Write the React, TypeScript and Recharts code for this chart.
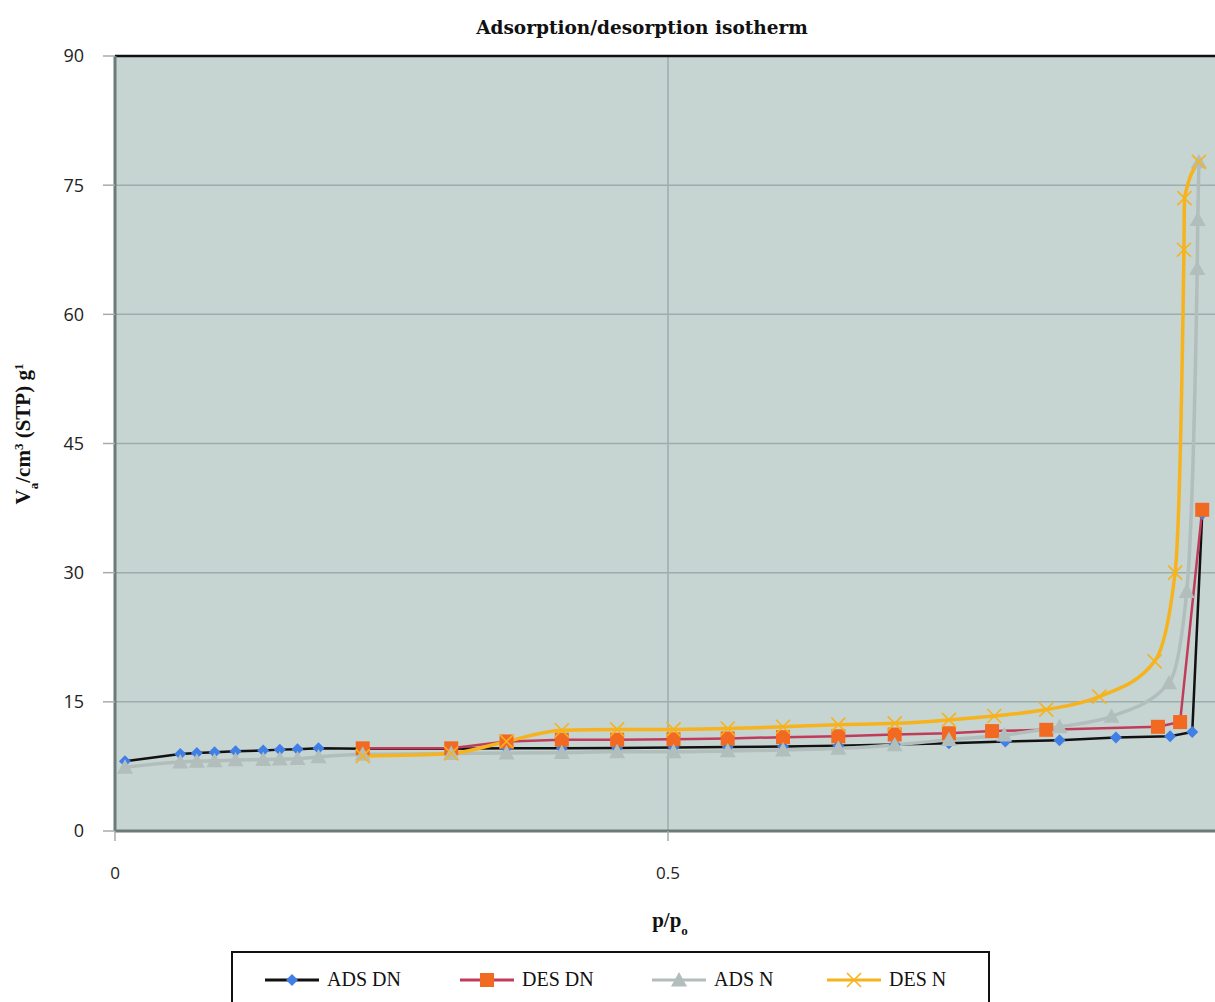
import { LineChart, Line, XAxis, YAxis, CartesianGrid, ReferenceLine } from 'recharts';

// relative pressure p/p0 and adsorbed volume (cm3 STP / g)
const adsDnP = [0.009, 0.059, 0.074, 0.09, 0.109, 0.134, 0.149, 0.165, 0.184, 0.224, 0.304, 0.354, 0.404, 0.454, 0.505, 0.554, 0.604, 0.654, 0.705, 0.754, 0.805, 0.854, 0.905, 0.954, 0.974, 0.983];
const adsDnV = [8.1, 8.95, 9.05, 9.15, 9.25, 9.35, 9.45, 9.5, 9.6, 9.55, 9.55, 9.6, 9.6, 9.65, 9.7, 9.75, 9.8, 9.9, 10.05, 10.2, 10.4, 10.55, 10.85, 11.0, 11.5, 36.8];

const desDnP = [0.224, 0.304, 0.354, 0.404, 0.454, 0.505, 0.554, 0.604, 0.654, 0.705, 0.754, 0.793, 0.842, 0.943, 0.963, 0.983];
const desDnV = [9.6, 9.6, 10.4, 10.6, 10.6, 10.65, 10.75, 10.9, 11.0, 11.2, 11.35, 11.6, 11.75, 12.1, 12.65, 37.3];

const adsNP = [0.009, 0.059, 0.074, 0.09, 0.109, 0.134, 0.149, 0.165, 0.184, 0.224, 0.304, 0.354, 0.404, 0.454, 0.505, 0.554, 0.604, 0.654, 0.705, 0.754, 0.804, 0.854, 0.901, 0.953, 0.969, 0.9785, 0.979, 0.98];
const adsNV = [7.4, 8.0, 8.1, 8.15, 8.25, 8.3, 8.35, 8.4, 8.6, 8.9, 9.0, 9.05, 9.1, 9.2, 9.2, 9.3, 9.4, 9.6, 10.0, 10.6, 11.15, 12.1, 13.3, 17.2, 27.8, 65.3, 71.0, 77.7];

const desNP = [0.224, 0.304, 0.354, 0.404, 0.454, 0.505, 0.554, 0.604, 0.654, 0.705, 0.754, 0.795, 0.842, 0.89, 0.94, 0.9585, 0.9665, 0.967, 0.98];
const desNV = [8.7, 9.0, 10.4, 11.7, 11.8, 11.8, 11.9, 12.1, 12.35, 12.5, 12.9, 13.35, 14.1, 15.6, 19.7, 30.0, 67.5, 73.5, 77.7];

const xTicks = [0, 0.5];
const yTicks = [0, 15, 30, 45, 60, 75, 90];
const seriesNames = ['ADS DN', 'DES DN', 'ADS N', 'DES N'];

const zip = (p: number[], v: number[]) => p.map((x, i) => ({ x, y: v[i] }));

const COLORS = {
  adsDnLine: '#111111',
  adsDnMark: '#3f7fe6',
  desDnLine: '#c03c5a',
  desDnMark: '#f26a21',
  adsN: '#b2bebc',
  desN: '#f6b31d',
};

const serif = '"Liberation Serif", "Times New Roman", serif';
const sans = '"Open Sans", "Noto Sans", sans-serif';

function Diamond({ cx, cy, s = 6 }: any) {
  return <path d={`M${cx},${cy - s}L${cx + s},${cy}L${cx},${cy + s}L${cx - s},${cy}Z`} fill={COLORS.adsDnMark} />;
}
function Square({ cx, cy, s = 7 }: any) {
  return <rect x={cx - s} y={cy - s} width={s * 2} height={s * 2} fill={COLORS.desDnMark} />;
}
function Triangle({ cx, cy, s = 8 }: any) {
  return <path d={`M${cx},${cy - s}L${cx + s},${cy + s * 0.8}L${cx - s},${cy + s * 0.8}Z`} fill={COLORS.adsN} />;
}
function Cross({ cx, cy, s = 7 }: any) {
  return (
    <path
      d={`M${cx - s},${cy - s}L${cx + s},${cy + s}M${cx - s},${cy + s}L${cx + s},${cy - s}`}
      stroke={COLORS.desN}
      strokeWidth={1.6}
      fill="none"
    />
  );
}

const dotOf = (Comp: any, tag: string) => (props: any) => {
  if (props.cx == null || props.cy == null) return <g key={`${tag}-${props.index}`} />;
  return (
    <g key={`${tag}-${props.index}`}>
      <Comp cx={props.cx} cy={props.cy} />
    </g>
  );
};

const YLabel = () => (
  <text
    x={22}
    y={426}
    transform="rotate(-90 22 426)"
    textAnchor="middle"
    fontFamily={serif}
    fontWeight="bold"
    fontSize={21}
    fill="#111"
  >
    V<tspan baselineShift="sub" fontSize={13}>a</tspan>
    <tspan>/cm</tspan>
    <tspan baselineShift="super" fontSize={13}>3</tspan>
    <tspan> (STP) g</tspan>
    <tspan baselineShift="super" fontSize={13}>1</tspan>
  </text>
);

const XLabel = () => (
  <text x={662} y={919} textAnchor="middle" fontFamily={serif} fontWeight="bold" fontSize={21} fill="#111">
    p/p<tspan baselineShift="sub" fontSize={13}>o</tspan>
  </text>
);

function LegendIcon({ idx }: { idx: number }) {
  const lineColor = [COLORS.adsDnLine, COLORS.desDnLine, COLORS.adsN, COLORS.desN][idx];
  const Mark = [Diamond, Square, Triangle, Cross][idx];
  return (
    <svg width={56} height={20} style={{ display: 'block' }}>
      <line x1={1} x2={55} y1={10} y2={10} stroke={lineColor} strokeWidth={3} />
      <Mark cx={28} cy={10} />
    </svg>
  );
}

const legendLeft = [31, 226, 418, 593];

export default function App() {
  return (
    <div style={{ position: 'fixed', left: 0, top: 0, width: 1215, height: 1002, overflow: 'hidden', background: '#fff' }}>
      <div style={{ position: 'absolute', left: 8, top: 8, width: 1240, height: 994 }}>
        <div
          style={{
            position: 'absolute',
            left: 434,
            top: 11,
            width: 400,
            textAlign: 'center',
            fontFamily: '"DejaVu Serif", serif',
            fontWeight: 'bold',
            fontSize: 18.5,
            lineHeight: '18px',
            color: '#111',
            zIndex: 2,
          }}
        >
          Adsorption/desorption isotherm
        </div>

        <LineChart width={1240} height={994} margin={{ top: 48, right: 27, bottom: 0, left: 0 }}>
          <CartesianGrid fill="#c6d4d2" stroke="#9caeac" strokeWidth={1.5} vertical horizontal />
          <XAxis
            type="number"
            dataKey="x"
            domain={[0, 1]}
            ticks={xTicks}
            tickFormatter={(v: number) => (v === 0 ? '0' : String(v))}
            height={171}
            tickSize={10}
            tickMargin={26}
            axisLine={{ stroke: '#6c7a78', strokeWidth: 3 }}
            tickLine={{ stroke: '#a3adab', strokeWidth: 1.5 }}
            tick={{ fontFamily: sans, fontSize: 17, fill: '#222' }}
            label={XLabel}
          />
          <YAxis
            type="number"
            domain={[0, 90]}
            ticks={yTicks}
            width={107}
            tickSize={12}
            tickMargin={19}
            axisLine={{ stroke: '#6c7a78', strokeWidth: 3 }}
            tickLine={{ stroke: '#a3adab', strokeWidth: 1.5 }}
            tick={{ fontFamily: sans, fontSize: 18, fill: '#222' }}
            label={YLabel}
          />
          <ReferenceLine y={90} stroke="#111" strokeWidth={2.5} ifOverflow="extendDomain" />
          <Line
            data={zip(adsDnP, adsDnV)}
            dataKey="y"
            name={seriesNames[0]}
            type="linear"
            stroke={COLORS.adsDnLine}
            strokeWidth={2.5}
            dot={dotOf(Diamond, 'adsdn')}
            activeDot={false}
            isAnimationActive={false}
          />
          <Line
            data={zip(desDnP, desDnV)}
            dataKey="y"
            name={seriesNames[1]}
            type="linear"
            stroke={COLORS.desDnLine}
            strokeWidth={2.5}
            dot={dotOf(Square, 'desdn')}
            activeDot={false}
            isAnimationActive={false}
          />
          <Line
            data={zip(adsNP, adsNV)}
            dataKey="y"
            name={seriesNames[2]}
            type="monotone"
            stroke={COLORS.adsN}
            strokeWidth={3.5}
            dot={dotOf(Triangle, 'adsn')}
            activeDot={false}
            isAnimationActive={false}
          />
          <Line
            data={zip(desNP, desNV)}
            dataKey="y"
            name={seriesNames[3]}
            type="monotone"
            stroke={COLORS.desN}
            strokeWidth={3.5}
            dot={dotOf(Cross, 'desn')}
            activeDot={false}
            isAnimationActive={false}
          />
        </LineChart>

        <div
          style={{
            position: 'absolute',
            left: 223,
            top: 943,
            width: 755,
            height: 70,
            border: '2px solid #111',
            background: '#fff',
          }}
        >
          {seriesNames.map((name, i) => (
            <div
              key={name}
              style={{
                position: 'absolute',
                left: legendLeft[i],
                top: 15,
                display: 'flex',
                alignItems: 'center',
                fontFamily: serif,
                fontSize: 20,
                color: '#111',
              }}
            >
              <LegendIcon idx={i} />
              <span style={{ marginLeft: 7 }}>{name}</span>
            </div>
          ))}
        </div>
      </div>
    </div>
  );
}
